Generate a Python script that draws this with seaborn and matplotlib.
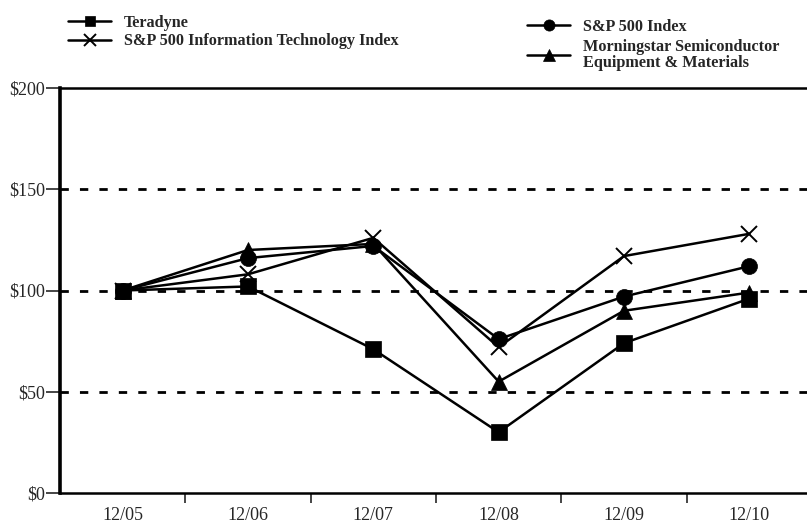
import pandas as pd
import matplotlib.pyplot as plt
import seaborn as sns
from matplotlib.lines import Line2D

periods = ['12/05', '12/06', '12/07', '12/08', '12/09', '12/10']
teradyne = [100, 102, 71, 30, 74, 96]
sp500 = [100, 116, 122, 76, 97, 112]
sp500_it = [100, 108, 126, 72, 117, 128]
morningstar = [100, 120, 123, 55, 90, 99]

names = ['Teradyne', 'S&P 500 Information Technology Index', 'S&P 500 Index',
         'Morningstar Semiconductor\nEquipment & Materials']
series = [teradyne, sp500_it, sp500, morningstar]
markers = {names[0]: 's', names[1]: 'x', names[2]: 'o', names[3]: '^'}
msize = {names[0]: 11, names[1]: 12, names[2]: 11.5, names[3]: 11.5}

rows = []
for n, vals in zip(names, series):
    for i, v in enumerate(vals):
        rows.append({'series': n, 'pos': i, 'value': v})
df = pd.DataFrame(rows)

sns.set_style("white")
plt.rcParams['font.family'] = ['Liberation Serif', 'DejaVu Serif']

fig = plt.figure(figsize=(8.07, 5.28), dpi=100)
ax = fig.add_axes([60/807, 1-493/528, 752/807, (493-88)/528])

for y in [50, 100, 150]:
    ax.axhline(y, color='black', lw=2, ls=(0, (3, 4)), zorder=1)

handles = {}
for n in names:
    d = df[df['series'] == n]
    mew = 1.4 if n == names[1] else 0.5
    sns.lineplot(x='pos', y='value', data=d, ax=ax, color='black', lw=1.8,
                 marker=markers[n], markersize=msize[n], markeredgecolor='black',
                 markeredgewidth=mew, zorder=3)
    # legend swatches use smaller markers, as in the original
    handles[n] = Line2D([], [], color='black', lw=1.8, marker=markers[n],
                        markersize=msize[n] * 0.7, markeredgewidth=mew)

ax.set_xlim(-0.5, 5.5)
ax.set_ylim(0, 200)
ax.set_xticks([i + 0.5 for i in range(5)])
ax.set_xticks(range(6), minor=True)
ax.set_xticklabels([])
ax.set_xticklabels(periods, minor=True)
ax.tick_params(axis='x', which='major', direction='out', length=7, width=1.2, bottom=True)
ax.tick_params(axis='x', which='minor', length=0, labelsize=13, pad=10)
ax.set_yticks([0, 50, 100, 150, 200])
ax.set_yticklabels(['$0', '$50', '$100', '$150', '$200'])
ax.tick_params(axis='y', direction='out', length=10, width=1.2, left=True, labelsize=13, pad=1)
ax.set_xlabel('')
ax.set_ylabel('')
for s in ['left', 'top', 'bottom', 'right']:
    ax.spines[s].set_color('black')
ax.spines['left'].set_linewidth(2.6)
ax.spines['top'].set_linewidth(1.8)
ax.spines['bottom'].set_linewidth(1.8)

leg_kw = dict(frameon=False, handlelength=2.65, handletextpad=0.8,
              prop={'weight': 'bold', 'size': 11.7},
              borderaxespad=0, borderpad=0)
fig.legend([handles[names[0]], handles[names[1]]], names[:2], labelspacing=0.15,
           loc='upper left', bbox_to_anchor=(68/807, 1-15/528), **leg_kw)
leg2 = fig.legend([handles[names[2]], handles[names[3]]], names[2:], labelspacing=0.25,
                  loc='upper left', bbox_to_anchor=(527/807, 1-19/528), **leg_kw)
leg2.get_texts()[1].set_linespacing(1.0)

fig.savefig('out.png', dpi=100)
